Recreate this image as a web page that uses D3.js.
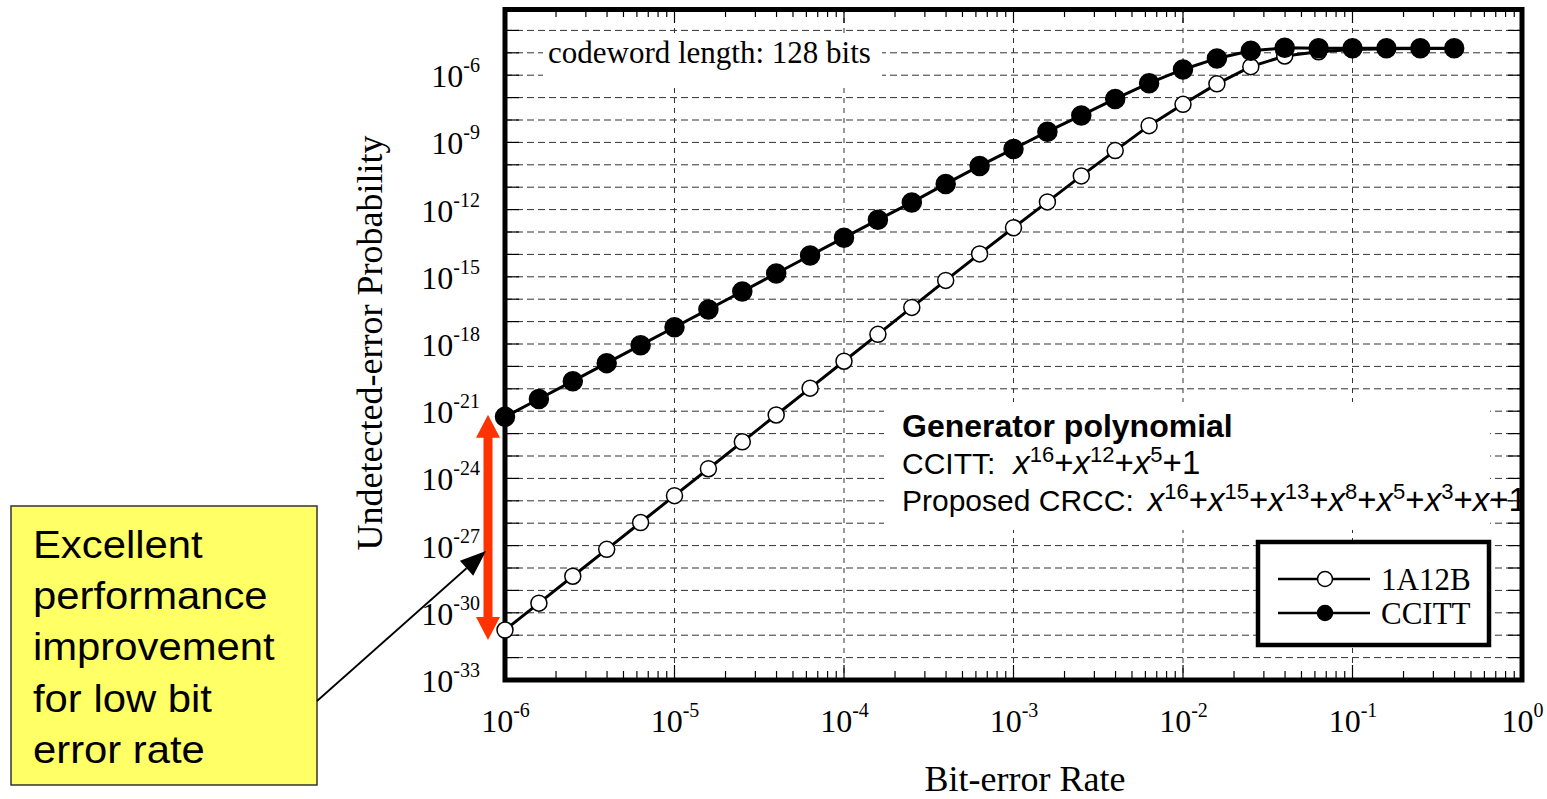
<!DOCTYPE html>
<html>
<head>
<meta charset="utf-8">
<script src="https://cdn.jsdelivr.net/npm/d3@7"></script>
<style>
  body { margin: 0; background: #fff; }
  svg { display: block; }
</style>
</head>
<body>
<svg class="chart"></svg>
<script>
// bit-error rate, 5 points per decade
var ber = [1e-6, 1.585e-6, 2.512e-6, 3.981e-6, 6.310e-6,
           1e-5, 1.585e-5, 2.512e-5, 3.981e-5, 6.310e-5,
           1e-4, 1.585e-4, 2.512e-4, 3.981e-4, 6.310e-4,
           1e-3, 1.585e-3, 2.512e-3, 3.981e-3, 6.310e-3,
           1e-2, 1.585e-2, 2.512e-2, 3.981e-2, 6.310e-2,
           0.1, 0.1585, 0.2512, 0.3981];

// undetected-error probability
var ccitt = [5.6e-22, 3.5e-21, 2.2e-20, 1.4e-19, 8.9e-19,
             5.6e-18, 3.5e-17, 2.2e-16, 1.4e-15, 8.9e-15,
             5.6e-14, 3.5e-13, 2.1e-12, 1.4e-11, 8.9e-11,
             5.1e-10, 3.0e-9, 1.6e-8, 8.7e-8, 4.4e-7,
             1.8e-6, 5.6e-6, 1.23e-5, 1.66e-5, 1.6e-5,
             1.58e-5, 1.58e-5, 1.58e-5, 1.58e-5];

var a12b = [1.7e-31, 2.7e-30, 4.3e-29, 6.8e-28, 1.07e-26,
            1.7e-25, 2.7e-24, 4.3e-23, 6.8e-22, 1.07e-20,
            1.7e-19, 2.7e-18, 4.3e-17, 6.9e-16, 1.05e-14,
            1.55e-13, 2.2e-12, 3.2e-11, 4.3e-10, 5.6e-9,
            5.0e-8, 4.1e-7, 2.4e-6, 7.2e-6, 1.12e-5,
            1.41e-5, 1.51e-5, 1.55e-5, 1.55e-5];

var xTickExp = [-6, -5, -4, -3, -2, -1, 0];
var yTickExp = [-6, -9, -12, -15, -18, -21, -24, -27, -30, -33];
var seriesNames = ["1A12B", "CCITT"];
var polyCCITT = [16, 12, 5];
var polyCRCC = [16, 15, 13, 8, 5, 3, 1];
var noteLines = ["Excellent", "performance", "improvement", "for low bit", "error rate"];

var W = 1547, H = 799;
var plot = {left: 505, right: 1522, top: 8, bottom: 680};
var serif = "'Liberation Serif','Times New Roman',serif";
var sans = "'Liberation Sans',Arial,sans-serif";

function p10(e) { return Math.pow(10, e); }

var svg = d3.select(".chart").attr("width", W).attr("height", H);
var defs = svg.append("defs");

var x = d3.scaleLog().domain([1e-6, 1]).range([plot.left, plot.right]);
var y = d3.scaleLog().domain([1e-33, 1e-3]).range([plot.bottom, plot.top]);

var yDecades = d3.range(-32, -3).map(p10);
var xDecades = d3.range(-5, 0).map(p10);

// grid
var grid = svg.append("g").attr("stroke", "#333").attr("stroke-width", 1);
grid.selectAll(".hg").data(yDecades).enter().append("line")
    .attr("x1", plot.left).attr("x2", plot.right)
    .attr("y1", function(d) { return y(d); }).attr("y2", function(d) { return y(d); })
    .attr("stroke-dasharray", "7,4");
grid.selectAll(".vg").data(xDecades).enter().append("line")
    .attr("y1", plot.top).attr("y2", plot.bottom)
    .attr("x1", function(d) { return x(d); }).attr("x2", function(d) { return x(d); })
    .attr("stroke-dasharray", "5,5");

// ticks
var ticks = svg.append("g").attr("stroke", "#000").attr("stroke-width", 1.2);
ticks.selectAll(".tl").data(yDecades).enter().append("line")
    .attr("x1", plot.left).attr("x2", plot.left + 14)
    .attr("y1", function(d) { return y(d); }).attr("y2", function(d) { return y(d); });
ticks.selectAll(".tr").data(yDecades).enter().append("line")
    .attr("x1", plot.right - 14).attr("x2", plot.right)
    .attr("y1", function(d) { return y(d); }).attr("y2", function(d) { return y(d); });
var xMinor = x.ticks().filter(function(d) { return d > 1e-6 && d < 1; });
function isDecade(d) { return Math.abs(Math.log10(d) - Math.round(Math.log10(d))) < 1e-6; }
ticks.selectAll(".tb").data(xMinor).enter().append("line")
    .attr("x1", function(d) { return x(d); }).attr("x2", function(d) { return x(d); })
    .attr("y1", plot.bottom).attr("y2", function(d) { return plot.bottom - (isDecade(d) ? 15 : 9); });
ticks.selectAll(".tt").data(xMinor).enter().append("line")
    .attr("x1", function(d) { return x(d); }).attr("x2", function(d) { return x(d); })
    .attr("y1", plot.top).attr("y2", function(d) { return plot.top + (isDecade(d) ? 15 : 9); });

// codeword length label
svg.append("rect").attr("x", 543).attr("y", 37).attr("width", 339).attr("height", 48).attr("fill", "#fff");
svg.append("text").attr("x", 548).attr("y", 63)
    .attr("font-family", serif).attr("font-size", 31)
    .text("codeword length: 128 bits");

// generator polynomial block
defs.append("clipPath").attr("id", "plotClip")
    .append("rect").attr("x", 0).attr("y", 0).attr("width", plot.right - 2).attr("height", H);
svg.append("rect").attr("x", 884).attr("y", 402).attr("width", 606).attr("height", 128).attr("fill", "#fff");
var gen = svg.append("g").attr("clip-path", "url(#plotClip)").attr("font-family", sans).attr("fill", "#000");
gen.append("text").attr("x", 902).attr("y", 437).attr("font-size", 32).attr("font-weight", "bold")
    .text("Generator polynomial");

function addPoly(t, exps, gap) {
    exps.forEach(function(e, i) {
        t.append("tspan").attr("font-style", "italic").attr("font-size", 33)
            .attr("dx", i === 0 ? gap : 0).text("x");
        if (e > 1) {
            t.append("tspan").attr("font-size", 22).attr("dy", -12).text(e);
            t.append("tspan").attr("font-size", 33).attr("dy", 12).text("+");
        } else {
            t.append("tspan").attr("font-size", 33).text("+");
        }
    });
    t.append("tspan").attr("font-size", 33).text("1");
}
var l2 = gen.append("text").attr("x", 902).attr("y", 474).attr("font-size", 30);
l2.append("tspan").text("CCITT:");
addPoly(l2, polyCCITT, 18);
var l3 = gen.append("text").attr("x", 902).attr("y", 511).attr("font-size", 30);
l3.append("tspan").text("Proposed CRCC:");
addPoly(l3, polyCRCC, 14);

// legend
var leg = svg.append("g");
leg.append("rect").attr("x", 1258).attr("y", 542).attr("width", 231).attr("height", 103)
    .attr("fill", "#fff").attr("stroke", "#000").attr("stroke-width", 4.5);
var legRows = leg.selectAll(".row").data(seriesNames).enter().append("g")
    .attr("transform", function(d, i) { return "translate(0," + (579 + i * 34) + ")"; });
legRows.append("line").attr("x1", 1278).attr("x2", 1370).attr("stroke", "#000").attr("stroke-width", 2.5);
legRows.append("circle").attr("cx", 1325).attr("r", 7.5)
    .attr("fill", function(d, i) { return i === 0 ? "#fff" : "#000"; })
    .attr("stroke", "#000").attr("stroke-width", 1.5);
legRows.append("text").attr("x", 1381).attr("y", 11)
    .attr("font-family", serif).attr("font-size", 31)
    .text(function(d) { return d; });

// frame
svg.append("rect").attr("x", plot.left).attr("y", plot.top + 1.5)
    .attr("width", plot.right - plot.left).attr("height", plot.bottom - plot.top - 1.5)
    .attr("fill", "none").attr("stroke", "#000").attr("stroke-width", 5);

// series
var line = d3.line()
    .x(function(d) { return x(d[0]); })
    .y(function(d) { return y(d[1]); });
var series = [
    {name: seriesNames[0], values: a12b, fill: "#fff", r: 8},
    {name: seriesNames[1], values: ccitt, fill: "#000", r: 9.5}
];
series.forEach(function(s) {
    var pts = ber.map(function(b, i) { return [b, s.values[i]]; });
    var g = svg.append("g");
    g.append("path").attr("d", line(pts))
        .attr("fill", "none").attr("stroke", "#000").attr("stroke-width", 3);
    g.selectAll("circle").data(pts).enter().append("circle")
        .attr("cx", function(d) { return x(d[0]); })
        .attr("cy", function(d) { return y(d[1]); })
        .attr("r", s.r)
        .attr("fill", s.fill).attr("stroke", "#000").attr("stroke-width", 1.5);
});

// axes labels
var yAxis = d3.axisLeft(y).tickValues(yTickExp.map(p10)).tickSize(0).tickFormat("");
var gy = svg.append("g").attr("transform", "translate(480,0)").call(yAxis);
gy.select(".domain").remove();
gy.selectAll(".tick text").remove();
var yt = gy.selectAll(".tick").append("text")
    .attr("y", 11.5).attr("text-anchor", "end")
    .attr("font-family", serif).attr("font-size", 32).attr("fill", "#000");
yt.append("tspan").text("10");
yt.append("tspan").attr("dy", -15).attr("font-size", 20)
    .text(function(d) { return Math.round(Math.log10(d)); });

var xAxis = d3.axisBottom(x).tickValues(xTickExp.map(p10)).tickSize(0).tickFormat("");
var gx = svg.append("g").attr("transform", "translate(0,732)").call(xAxis);
gx.select(".domain").remove();
gx.selectAll(".tick text").remove();
var xt = gx.selectAll(".tick").append("text")
    .attr("y", 0).attr("text-anchor", "middle")
    .attr("font-family", serif).attr("font-size", 32).attr("fill", "#000");
xt.append("tspan").text("10");
xt.append("tspan").attr("dy", -15).attr("font-size", 20)
    .text(function(d) { return Math.round(Math.log10(d)); });

svg.append("text").attr("transform", "translate(382,343) rotate(-90)")
    .attr("text-anchor", "middle").attr("font-family", serif).attr("font-size", 36)
    .text("Undetected-error Probability");
svg.append("text").attr("x", 1025).attr("y", 791)
    .attr("text-anchor", "middle").attr("font-family", serif).attr("font-size", 36)
    .text("Bit-error Rate");

// red double arrow between the two curves at the lowest BER
var ax = 488, aTop = y(ccitt[0]) - 2, aBot = y(a12b[0]) + 10, hl = 23, hh = 12, sh = 4.5;
svg.append("path")
    .attr("d", "M" + ax + "," + aTop + "L" + (ax + hh) + "," + (aTop + hl) + "L" + (ax + sh) + "," + (aTop + hl) +
               "L" + (ax + sh) + "," + (aBot - hl) + "L" + (ax + hh) + "," + (aBot - hl) + "L" + ax + "," + aBot +
               "L" + (ax - hh) + "," + (aBot - hl) + "L" + (ax - sh) + "," + (aBot - hl) +
               "L" + (ax - sh) + "," + (aTop + hl) + "L" + (ax - hh) + "," + (aTop + hl) + "Z")
    .attr("fill", "#ff3300");

// note box with arrow
svg.append("rect").attr("x", 11).attr("y", 506).attr("width", 306).attr("height", 279)
    .attr("fill", "#ffff66").attr("stroke", "#333").attr("stroke-width", 1.5);
var note = svg.append("g").attr("transform", "translate(33,0) scale(1.1,1)");
note.selectAll("text").data(noteLines).enter().append("text")
    .attr("x", 0).attr("y", function(d, i) { return 558 + i * 51.2; })
    .attr("font-family", sans).attr("font-size", 38)
    .text(function(d) { return d; });

var tip = [486, 551], tail = [317, 701];
var dx = tip[0] - tail[0], dy = tip[1] - tail[1], len = Math.sqrt(dx * dx + dy * dy);
var ux = dx / len, uy = dy / len, bx = tip[0] - 26 * ux, by = tip[1] - 26 * uy;
svg.append("line").attr("x1", tail[0]).attr("y1", tail[1]).attr("x2", bx).attr("y2", by)
    .attr("stroke", "#000").attr("stroke-width", 1.8);
svg.append("path")
    .attr("d", "M" + tip[0] + "," + tip[1] + "L" + (bx - 10 * uy) + "," + (by + 10 * ux) +
               "L" + (bx + 10 * uy) + "," + (by - 10 * ux) + "Z")
    .attr("fill", "#000");
</script>
</body>
</html>
